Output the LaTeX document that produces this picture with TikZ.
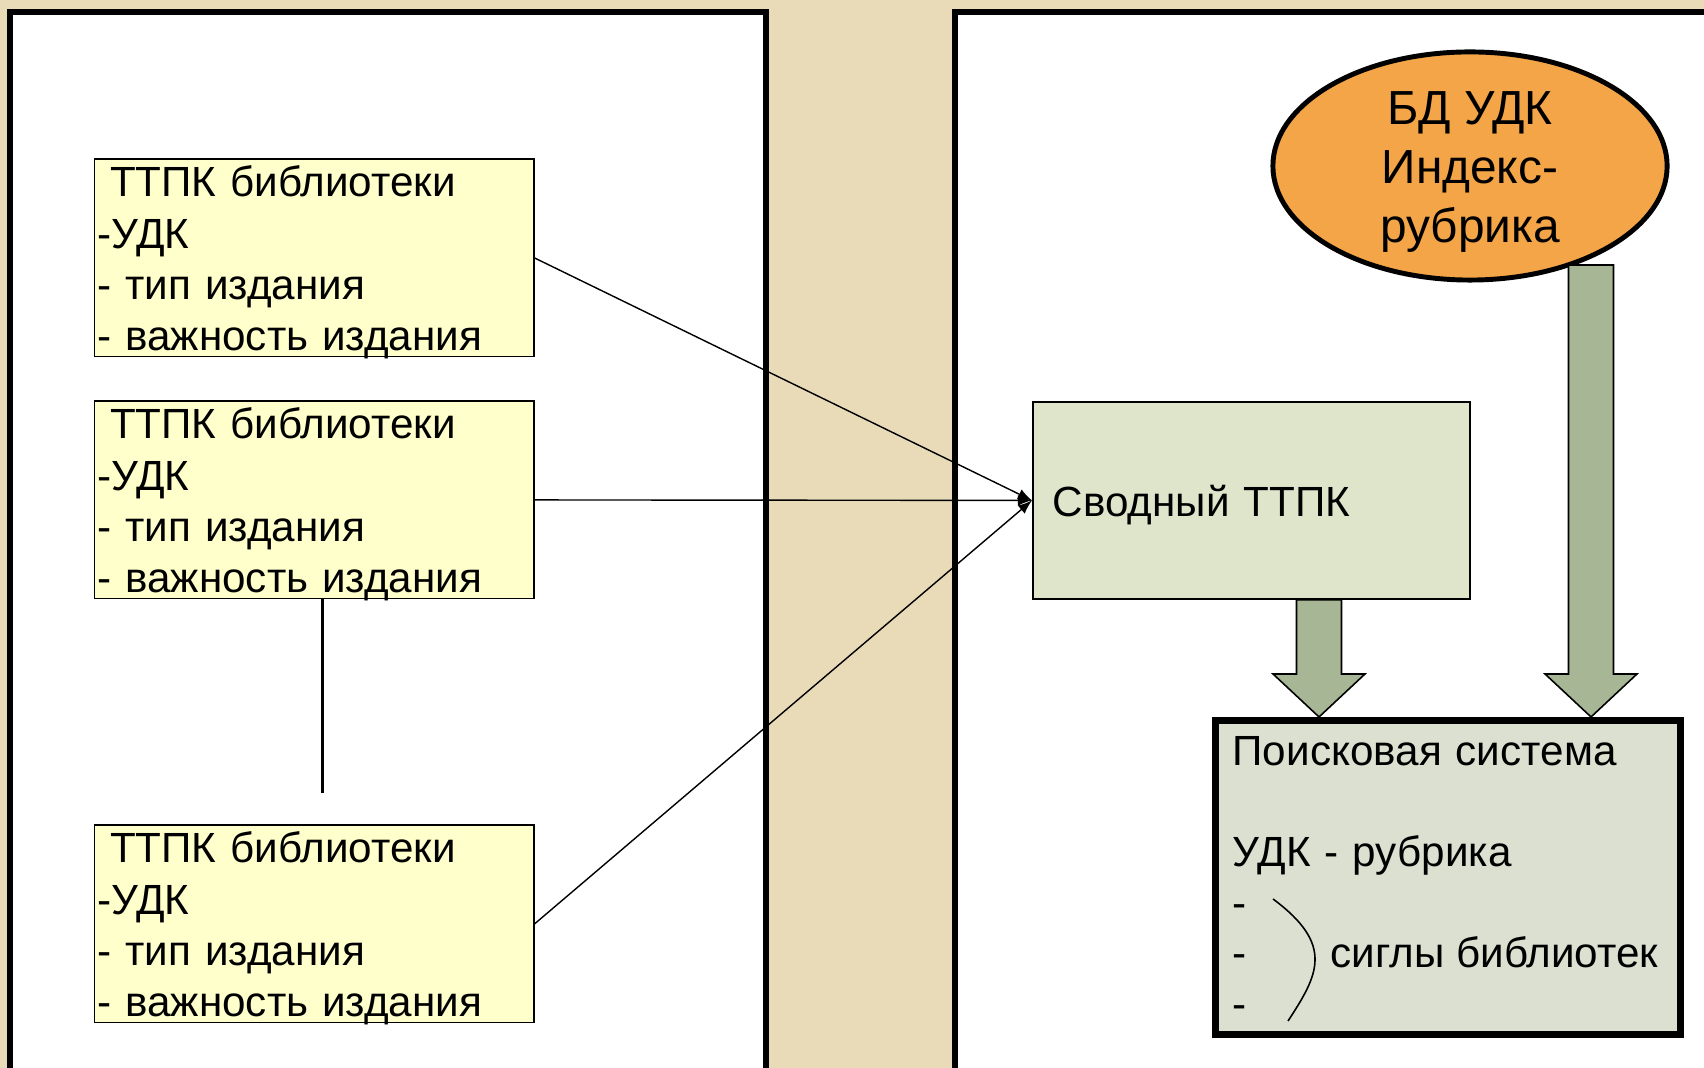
\documentclass[tikz,border=0pt]{standalone}
\usepackage{fontspec}
\setmainfont{Liberation Sans}
\usetikzlibrary{shapes.geometric,calc}

\definecolor{tanbg}{HTML}{E9DBB8}
\definecolor{ttpkfill}{HTML}{FFFFCC}
\definecolor{svodfill}{HTML}{DFE5CB}
\definecolor{searchfill}{HTML}{DBE0D0}
\definecolor{arrfill}{HTML}{A7B695}
\definecolor{bdfill}{HTML}{F3A547}

% fat outlined arrow going down from #1 to #2
\newcommand\fatarrow[2]{%
  \filldraw[fatarr] ($(#1)+(-22.5,0)$) -- ($(#1)+(22.5,0)$) -- ($(#2)+(22.5,-43)$)
    -- ($(#2)+(46,-43)$) -- (#2) -- ($(#2)+(-46,-43)$) -- ($(#2)+(-22.5,-43)$) -- cycle;}
% one library record
\newcommand\ttpktext{\hspace*{.3em}ТТПК библиотеки\\-УДК\\- тип издания\\- важность издания}

\begin{document}
\begin{tikzpicture}[x=0.01cm,y=-0.01cm,
  panel/.style={draw,fill=white,line width=1.7pt},
  ttpk/.style={draw,line width=0.5pt,fill=ttpkfill,anchor=north west,
    minimum width=4.39cm,minimum height=1.97cm,inner xsep=0.03cm,inner ysep=0pt,
    text width=4.33cm,text height=10.3pt,text depth=45pt,align=left,
    font=\fontsize{12}{14.6}\selectfont},
  fatarr/.style={fill=arrfill,draw,line width=0.45pt}]
\useasboundingbox (0,0) rectangle (1704,1068);
\fill[tanbg] (0,0) rectangle (1704,1068);

% two panels
\draw[panel] (10,12) rectangle (766,1071);
\draw[panel] (955,12) rectangle (1730,1071);

% library records
\node[ttpk] (ttpka) at (93.5,158.5) {\ttpktext};
\node[ttpk] (ttpkb) at (93.5,400.5) {\ttpktext};
\node[ttpk] (ttpkc) at (93.5,824.5) {\ttpktext};

\coordinate (gap) at (322,793);
\draw[line width=0.85pt] (gap |- ttpkb.south) -- (gap);

% union catalogue
\node[draw,line width=0.5pt,fill=svodfill,anchor=north west,minimum width=4.37cm,
  minimum height=1.97cm,inner xsep=0.2cm,text width=3.97cm,text depth=0pt,align=left,
  font=\fontsize{12}{14.4}\selectfont] (svod) at (1032,401) {Сводный ТТПК};

\path[draw,->,>=latex] (ttpka.east) -- (svod.west);
\path[draw,->,>=latex] (ttpkb.east) -- (svod.west);
\path[draw,->,>=latex] (ttpkc.east) -- (svod.west);

% database
\node[ellipse,draw,line width=1.4pt,fill=bdfill,minimum width=3.94cm,minimum height=2.28cm] (bd) at (1470,166) {};
\node[align=center,inner sep=0pt,font=\fontsize{13.6}{16.9}\selectfont] (bdtext) at ($(bd.center)+(0,6)$) {БД УДК\\Индекс-\\рубрика};

% search system
\node[draw,line width=2.1pt,fill=searchfill,minimum width=4.645cm,minimum height=3.135cm,
  inner xsep=0.17cm,text width=4.305cm,align=left,
  font=\fontsize{12}{14.4}\selectfont] (search) at (1448,877.5)
  {Поисковая система\\[14.4pt]УДК - рубрика\\-\\-\\-};
\draw[line width=0.45pt] (1273,899) .. controls (1335,945) and (1318,975) .. (1288,1021);
\node[anchor=base west,inner sep=0pt,font=\fontsize{12}{14.4}\selectfont] (sigly) at (1330,967) {сиглы библиотек};

\coordinate (a1) at (1319,0);
\coordinate (a2) at (1591,265);
\fatarrow{svod.south -| a1}{search.north -| a1}
\fatarrow{a2}{search.north -| a2}
\end{tikzpicture}
\end{document}
